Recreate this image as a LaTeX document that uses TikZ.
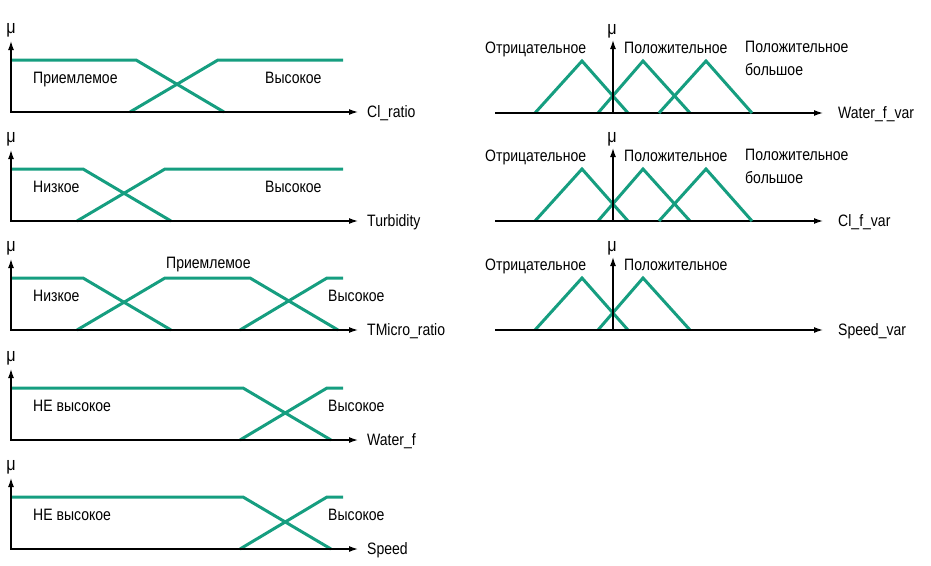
\documentclass[tikz,border=0pt]{standalone}
\usepackage{fontspec}
\setmainfont{Liberation Sans}[FakeStretch=0.85]
\usetikzlibrary{arrows.meta}

\definecolor{mfgreen}{RGB}{22,158,128}

\tikzstyle {axis} = [draw=black, line width=1.3pt, {Latex[length=9pt,width=6pt]}-{Latex[length=9pt,width=6pt]}]
\tikzstyle {mf} = [draw=mfgreen, line width=3pt]
\tikzstyle {term} = [inner sep=0pt, anchor=base west, font=\fontsize{16.5}{22.5}\selectfont]
\tikzstyle {munode} = [inner sep=0pt, font=\fontsize{19}{22}\selectfont]

\begin{document}
\begin{tikzpicture}[x=1pt, y=-1pt]
    \useasboundingbox (0,0) rectangle (931,565);

    % input variables (left)
    \draw [mf] (11,60) -- (136,60) -- (224,112);
    \draw [mf] (130,112) -- (218,60) -- (343,60);
    \draw [mf] (11,169) -- (83,169) -- (171,221);
    \draw [mf] (77,221) -- (165,169) -- (343,169);
    \draw [mf] (11,278) -- (83,278) -- (171,330);
    \draw [mf] (77,330) -- (165,278) -- (250,278) -- (338,330);
    \draw [mf] (240,330) -- (327,278) -- (343,278);
    \draw [mf] (11,388) -- (243,388) -- (331,440);
    \draw [mf] (240,440) -- (327,388) -- (343,388);
    \draw [mf] (11,497) -- (243,497) -- (331,549);
    \draw [mf] (240,549) -- (327,497) -- (343,497);

    \foreach \yo/\lbl [count=\i] in {112/Cl\_ratio, 221/Turbidity, 330/TMicro\_ratio, 440/Water\_f, 549/Speed} {
        \draw [axis] (11,\yo-71) -- (11,\yo) -- (358,\yo);
        \node [munode] (muin\i) at (11,\yo-82) {μ};
        \node [term] (varin\i) at (367,\yo+5) {\lbl};
    }

    \node [term] (cl low) at (33,83) {Приемлемое};
    \node [term] (cl high) at (265,83) {Высокое};
    \node [term] (tu low) at (33,192) {Низкое};
    \node [term] (tu high) at (265,192) {Высокое};
    \node [term] (tm low) at (33,301) {Низкое};
    \node [term] (tm mid) at (166,268) {Приемлемое};
    \node [term] (tm high) at (328,301) {Высокое};
    \node [term] (wf low) at (33,411) {НЕ высокое};
    \node [term] (wf high) at (328,411) {Высокое};
    \node [term] (sp low) at (33,520) {НЕ высокое};
    \node [term] (sp high) at (328,520) {Высокое};

    % output variables (right)
    \foreach \yo/\lbl [count=\i] in {113/Water\_f\_var, 221/Cl\_f\_var, 330/Speed\_var} {
        \draw [mf] (535,\yo) -- (582,\yo-52) -- (628,\yo);
        \draw [mf] (598,\yo) -- (643,\yo-52) -- (690,\yo);
        \draw [axis, -{Latex[length=9pt,width=6pt]}] (495,\yo) -- (823,\yo);
        \draw [axis, -{Latex[length=9pt,width=6pt]}] (613,\yo) -- (613,\yo-73);
        \node [munode] (muout\i) at (612,\yo-82) {μ};
        \node [term] (neg\i) at (485,\yo-60) {Отрицательное};
        \node [term] (pos\i) at (624,\yo-60) {Положительное};
        \node [term] (varout\i) at (838,\yo+5) {\lbl};
    }
    \foreach \yo [count=\i] in {113, 221} {
        \draw [mf] (659,\yo) -- (706,\yo-52) -- (752,\yo);
        \node [term, anchor=north west, align=left] (posbig\i) at (745,\yo-72) {Положительное\\большое};
    }
\end{tikzpicture}
\end{document}
